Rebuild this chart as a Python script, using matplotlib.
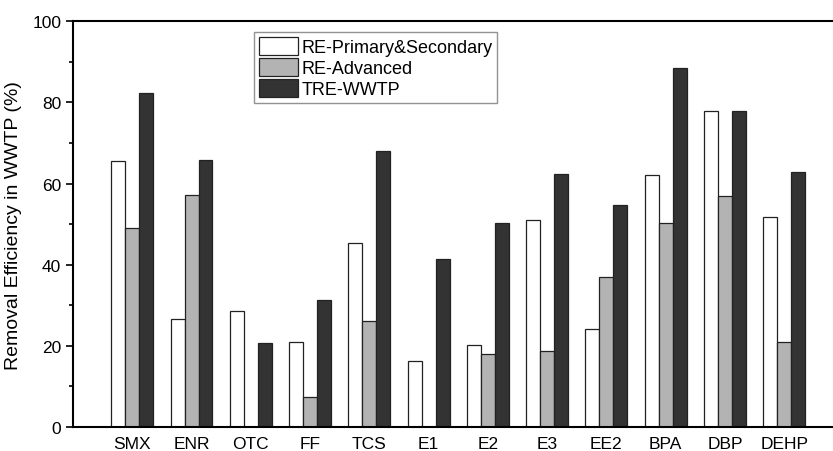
import matplotlib

matplotlib.use("Agg")
import matplotlib.pyplot as plt
import numpy as np
from matplotlib.ticker import MultipleLocator

plt.rcParams["font.family"] = ["Liberation Sans", "DejaVu Sans"]

compounds = ["SMX", "ENR", "OTC", "FF", "TCS", "E1", "E2", "E3", "EE2", "BPA", "DBP", "DEHP"]
re_primary = [65.5, 26.5, 28.5, 20.9, 45.3, 16.2, 20.1, 51.1, 24.1, 62.2, 77.9, 51.8]
re_advanced = [49.1, 57.1, 0, 7.5, 26.1, 0, 18.0, 18.7, 36.9, 50.2, 56.9, 21.0]
tre_wwtp = [82.4, 65.8, 20.6, 31.2, 68.0, 41.5, 50.2, 62.3, 54.7, 88.5, 77.9, 62.8]

series = [
    ("RE-Primary&Secondary", re_primary, "#ffffff"),
    ("RE-Advanced", re_advanced, "#b3b3b3"),
    ("TRE-WWTP", tre_wwtp, "#333333"),
]

fig = plt.figure(figsize=(8.33, 4.52), dpi=100)
ax = fig.add_axes([0.0876, 0.053, 0.925, 0.898])

x = np.arange(len(compounds))
w = 0.236
for i, (name, vals, color) in enumerate(series):
    ax.bar(x + (i - 1) * w, vals, width=w, color=color, edgecolor="#222222",
           linewidth=0.9, label=name)

ax.set_xlim(-1, 12)
ax.set_ylim(0, 100)
ax.set_xticks(x)
ax.set_xticklabels(compounds, fontsize=12.5)
ax.tick_params(axis="x", length=0, pad=6.5)
ax.yaxis.set_major_locator(MultipleLocator(20))
ax.yaxis.set_minor_locator(MultipleLocator(10))
ax.tick_params(axis="y", which="major", length=5, width=1.2, labelsize=12.5, direction="out")
ax.tick_params(axis="y", which="minor", length=3, width=1.2, direction="out")
ax.set_ylabel("Removal Efficiency in WWTP (%)", fontsize=14, labelpad=7)
for s in ax.spines.values():
    s.set_linewidth(1.5)

leg = ax.legend(loc="upper left", bbox_to_anchor=(254 / 833, 1 - 33 / 452),
                bbox_transform=fig.transFigure, fontsize=13, frameon=True,
                fancybox=False, edgecolor="#777777", handlelength=2.2,
                handleheight=1.2, handletextpad=0.2, labelspacing=0.1,
                borderpad=0.25, borderaxespad=0)
leg.get_frame().set_linewidth(1.0)

fig.savefig("out.png", dpi=100)
